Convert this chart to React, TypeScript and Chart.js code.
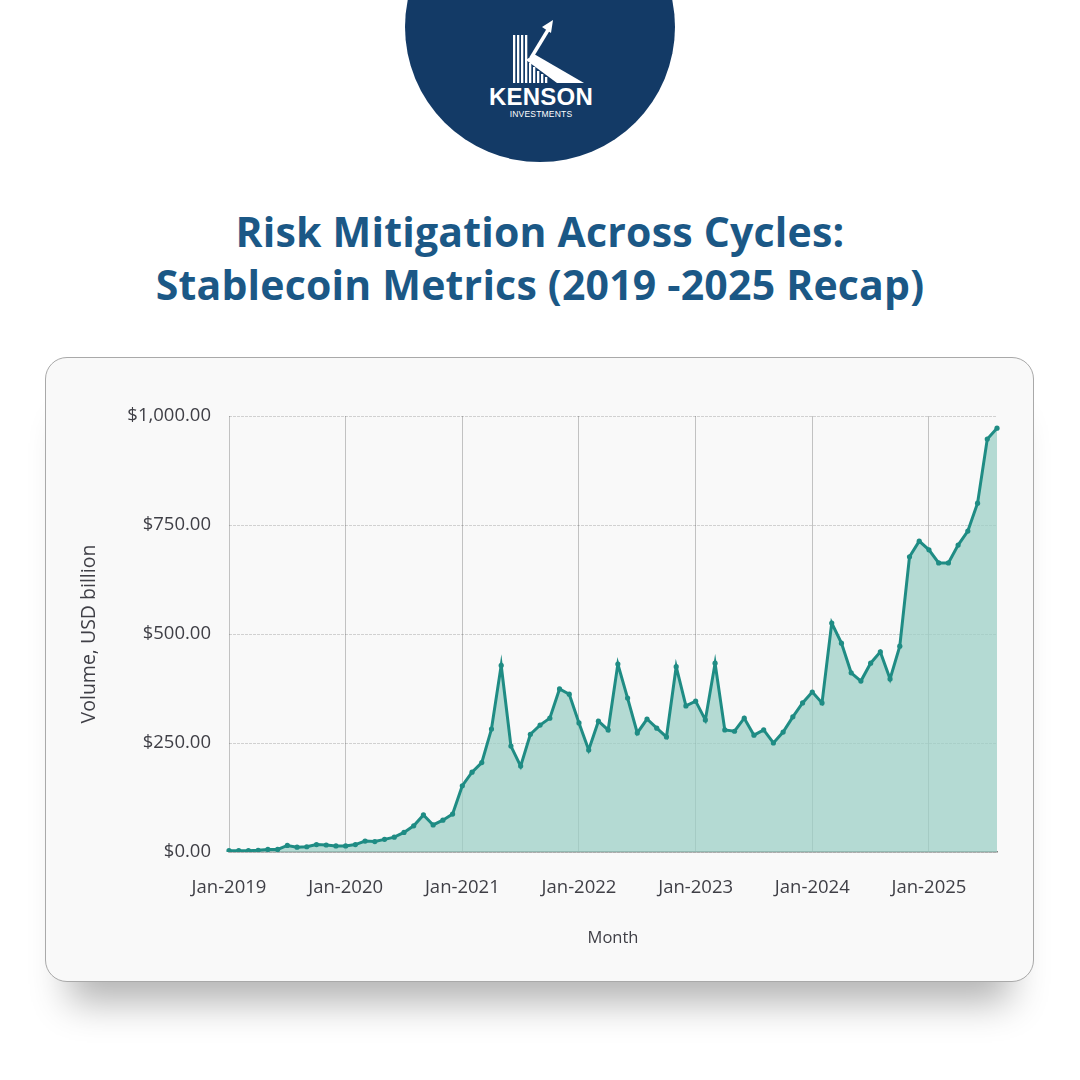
import React, { useEffect, useRef } from "react";
import { Chart, registerables } from "chart.js";

Chart.register(...registerables);

// Monthly stablecoin volume, Jan-2019 through Aug-2025 (USD billion)
const START_YEAR = 2019;
const MONTH_NAMES = ["Jan", "Feb", "Mar", "Apr", "May", "Jun", "Jul", "Aug", "Sep", "Oct", "Nov", "Dec"];
const VOLUME_2019 = [3, 3, 3, 4, 6, 6, 15, 11, 12, 17, 16, 14];
const VOLUME_2020 = [14, 17, 25, 24, 29, 34, 45, 60, 85, 62, 73, 87];
const VOLUME_2021 = [152, 183, 205, 282, 428, 243, 197, 270, 291, 307, 374, 362];
const VOLUME_2022 = [296, 234, 300, 280, 431, 353, 273, 305, 284, 264, 425, 335];
const VOLUME_2023 = [346, 303, 433, 280, 277, 307, 268, 280, 250, 275, 310, 342];
const VOLUME_2024 = [367, 342, 525, 479, 411, 392, 433, 459, 397, 472, 677, 713];
const VOLUME_2025 = [693, 663, 663, 704, 736, 800, 947, 972];

const VOLUME = [
  ...VOLUME_2019,
  ...VOLUME_2020,
  ...VOLUME_2021,
  ...VOLUME_2022,
  ...VOLUME_2023,
  ...VOLUME_2024,
  ...VOLUME_2025,
];
const MONTH_LABELS = VOLUME.map(
  (_, i) => `${MONTH_NAMES[i % 12]}-${START_YEAR + Math.floor(i / 12)}`
);

const Y_MIN = 0;
const Y_MAX = 1000;
const Y_STEP = 250;

const TEAL = "#1f8c84";
const FILL = "rgba(152, 205, 196, 0.72)";
const GRID_X = "rgba(0, 0, 0, 0.22)";
const GRID_Y = "rgba(0, 0, 0, 0.16)";
const TICK_COLOR = "#3f3f46";
const AXIS_FONT = "'Open Sans', 'DejaVu Sans', sans-serif";

const isYearStart = (i: number) => MONTH_LABELS[i] !== undefined && MONTH_LABELS[i].startsWith("Jan");

function VolumeChart() {
  const canvasRef = useRef<HTMLCanvasElement | null>(null);

  useEffect(() => {
    const canvas = canvasRef.current;
    if (!canvas) return;
    const chart = new Chart(canvas, {
      type: "line",
      data: {
        labels: MONTH_LABELS,
        datasets: [
          {
            label: "Volume",
            data: VOLUME,
            borderColor: TEAL,
            backgroundColor: FILL,
            borderWidth: 3,
            borderJoinStyle: "miter",
            fill: "origin",
            tension: 0,
            pointRadius: 2.6,
            pointBackgroundColor: TEAL,
            pointBorderWidth: 0,
          },
        ],
      },
      options: {
        animation: false,
        responsive: false,
        devicePixelRatio: 1,
        layout: { padding: { top: 59, right: 37, left: 0, bottom: 0 } },
        plugins: {
          legend: { display: false },
          tooltip: { enabled: false },
        },
        scales: {
          x: {
            type: "category",
            afterFit: (scale: any) => {
              scale.height = 130;
            },
            grid: {
              drawTicks: false,
              color: (ctx: any) => (isYearStart(ctx.index) ? GRID_X : "rgba(0,0,0,0)"),
              lineWidth: 1,
            },
            border: { display: true, color: "#858585", width: 1.5 },
            ticks: {
              autoSkip: false,
              maxRotation: 0,
              minRotation: 0,
              padding: 25,
              color: TICK_COLOR,
              font: { family: AXIS_FONT, size: 18.5 },
              callback: (_v: any, i: number) => (isYearStart(i) ? MONTH_LABELS[i] : ""),
            },
            title: {
              display: true,
              text: "Month",
              color: TICK_COLOR,
              font: { family: AXIS_FONT, size: 16.5 },
              padding: { top: 0, bottom: 34 },
            },
          },
          y: {
            min: Y_MIN,
            max: Y_MAX,
            afterFit: (scale: any) => {
              scale.width = 184;
            },
            grid: { drawTicks: false, color: GRID_Y, lineWidth: 1 },
            border: { display: false, dash: [3, 1] },
            ticks: {
              stepSize: Y_STEP,
              padding: 18,
              color: TICK_COLOR,
              font: { family: AXIS_FONT, size: 18.5 },
              callback: (v: any) =>
                "$" +
                Number(v).toLocaleString("en-US", {
                  minimumFractionDigits: 2,
                  maximumFractionDigits: 2,
                }),
            },
            title: {
              display: true,
              text: "Volume, USD billion",
              color: TICK_COLOR,
              font: { family: AXIS_FONT, size: 19.5 },
              padding: { top: 33, bottom: 0 },
            },
          },
        },
      } as any,
    });
    return () => chart.destroy();
  }, []);

  return (
    <canvas
      ref={canvasRef}
      width={989}
      height={625}
      style={{ position: "absolute", left: 45, top: 357, width: 989, height: 625 }}
    />
  );
}

function Logo() {
  const stripesTall = [513, 517, 521, 525];
  const stripesShort = [
    { x: 529, top: 63 },
    { x: 533, top: 67 },
    { x: 537, top: 71 },
    { x: 541, top: 74 },
    { x: 545, top: 77 },
  ];
  return (
    <div
      style={{
        position: "absolute",
        left: 405,
        top: -108,
        width: 270,
        height: 270,
        borderRadius: "50%",
        background: "#133a66",
      }}
    >
      <svg
        width={270}
        height={270}
        viewBox="405 -108 270 270"
        style={{ position: "absolute", left: 0, top: 0 }}
      >
        {stripesTall.map((x) => (
          <rect key={x} x={x} y={35} width={2.3} height={48} fill="#ffffff" />
        ))}
        {stripesShort.map((s) => (
          <rect key={s.x} x={s.x} y={s.top} width={2.3} height={83 - s.top} fill="#ffffff" />
        ))}
        <polygon points="526,60 534,54 584,83 557,83" fill="#ffffff" />
        <line x1={531} y1={58} x2={548} y2={30} stroke="#ffffff" strokeWidth={3.5} />
        <polygon points="553,20 542,27 551,33" fill="#ffffff" />
        <text
          x={541}
          y={105}
          textAnchor="middle"
          fill="#ffffff"
          style={{ font: "700 24px 'Liberation Sans', Arial, sans-serif", letterSpacing: 0.2 }}
        >
          KENSON
        </text>
        <text
          x={541}
          y={117}
          textAnchor="middle"
          fill="#ffffff"
          style={{ font: "400 8.5px 'Liberation Sans', Arial, sans-serif", letterSpacing: 0.2 }}
        >
          INVESTMENTS
        </text>
      </svg>
    </div>
  );
}

export default function App() {
  return (
    <div
      style={{
        position: "absolute",
        left: 0,
        top: 0,
        width: 1080,
        height: 1080,
        background: "#ffffff",
        overflow: "hidden",
      }}
    >
      <Logo />
      <div
        style={{
          position: "absolute",
          left: 0,
          top: 205,
          width: 1080,
          textAlign: "center",
          color: "#1b5886",
          font: "700 41px 'Open Sans', sans-serif",
          lineHeight: "53px",
          letterSpacing: 0.2,
        }}
      >
        <div>Risk Mitigation Across Cycles:</div>
        <div>Stablecoin Metrics (2019 -2025 Recap)</div>
      </div>
      <div
        style={{
          position: "absolute",
          left: 45,
          top: 357,
          width: 989,
          height: 625,
          boxSizing: "border-box",
          borderRadius: 22,
          border: "1.5px solid #a9a9a9",
          background: "#f9f9f9",
          boxShadow: "0 44px 36px -24px rgba(0,0,0,0.3)",
        }}
      />
      <VolumeChart />
    </div>
  );
}
